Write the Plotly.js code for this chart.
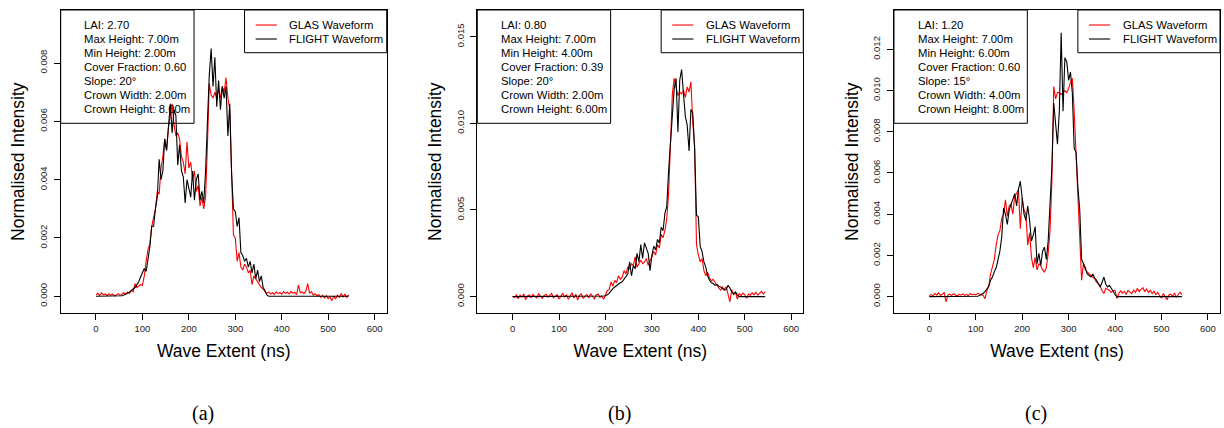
<!DOCTYPE html>
<html><head><meta charset="utf-8">
<script src="https://cdn.plot.ly/plotly-3.0.1.min.js"></script>
<style>html,body{margin:0;padding:0;background:#fff}#chart{width:1224px;height:428px}</style>
</head><body><div id="chart"></div>
<script>
// Wave extent sampling (ns)
const waveExtent = [0,4,8,12,16,20,24,28,32,36,40,44,48,52,56,60,64,68,72,76,80,84,88,92,96,100,104,108,112,116,120,124,128,132,136,140,144,148,152,156,160,164,168,172,176,180,184,188,192,196,200,204,208,212,216,220,224,228,232,236,240,244,248,252,256,260,264,268,272,276,280,284,288,292,296,300,304,308,312,316,320,324,328,332,336,340,344,348,352,356,360,364,368,372,376,380,384,388,392,396,400,404,408,412,416,420,424,428,432,436,440,444,448,452,456,460,464,468,472,476,480,484,488,492,496,500,504,508,512,516,520,524,528,532,536,540,544];

// Normalised intensity values, in units of 1e-4
const UNIT = 1e-4;
const glasA = [0.5,1.0,0.3,1.2,0.6,0.8,0.2,0.9,0.4,0.7,
 0.1,0.6,0.9,0.3,0.8,1.2,0.7,1.5,1.0,2.0,
 1.5,4.3,3.0,3.5,4.0,3.8,7,12,16,18,
 24,27,30,36,35,44,48,54,50,58,
 62,66,59,55,56,54,48,46,42,53,
 44,46,40,43,36,38,31,34,30,34,
 52,73,69,68,70,68,71,68,72,70,
 75,68,64,40,21,20,12,15,10,9,
 11,10,8,9,4,7,6,5,4,3,
 2.5,1.5,1.0,1.5,0.8,1.2,0.6,1.5,0.9,1.3,
 0.7,1.6,1.0,1.4,0.8,1.7,1.1,1.3,0.6,3.8,
 1.2,1.5,0.9,1.8,4.3,1.0,1.6,0.4,0.9,0.2,
 0.6,-0.4,0.3,-0.6,0.2,-0.8,-0.3,-1.5,0.1,-0.9,
 0.4,-0.5,1.0,-0.3,0.8,-0.4,0.5];
const flightA = [0,0,0,0,0,0,0,0,0,0,
 0,0,0,0.1,0.2,0.4,0.7,1.0,1.4,2.0,
 2.5,3.0,4.0,5.0,6.6,8.0,9.5,8.5,13,17,
 24,24,30,34,47,40,43,54,50,58,
 66,56,64,62,45,52,43,41,32,40,
 37,34,43,33,40,42,33,36,32,43,
 60,76,85,72,82,65,74,64,72,68,
 72,55,66,42,30,29,24,27,15,14,
 12,13,10,12,8,11,6,9,5,7,
 3,2,0.5,0,0,0,0,0,0,0,
 0,0,0,0,0,0,0,0,0,0,
 0,0,0,0,0,0,0,0,0,0,
 0,0,0,0,0,0,0,0,0,0,
 0,0,0,0,0,0,0];
const glasB = [0.2,-0.5,1.0,-1.2,0.8,-0.3,1.5,-1.8,0.4,0.9,
 -0.6,1.2,0.1,-0.8,1.6,0.3,-1.0,0.7,1.3,-0.4,
 0.9,1.8,-0.7,0.5,1.1,-1.4,0.6,1.9,-0.3,1.0,
 -1.5,0.8,2.2,-0.9,1.4,-2.0,0.7,1.6,-1.1,0.3,
 1.2,-0.8,1.7,0.2,-1.3,0.9,1.5,-0.6,0.4,-1.6,
 1.0,3.5,4.0,8.5,6.0,9.4,8.0,12,10,11,
 15,13,17,16,19,18,23,17,19,21,
 19,20,22,18,21,23,26,24,30,28,
 36,34,38,45,60,95,117,126,120,116,
 118,117,119,115,121,118,124,100,87,30,
 24,20,22,15,12,14,11,9,10,8,
 6.5,5,3.7,5.5,4,5.6,2,-3,4,1,
 2.5,-1.5,1.8,0.5,2.0,1.0,-1.0,1.5,0.8,2.2,
 1.0,2.5,0.8,1.8,3.0,1.5,2.7];
const flightB = [0,0,0,0,0,0,0,0,0,0,
 0,0,0,0,0,0,0,0,0,0,
 0,0,0,0,0,0,0,0,0,0,
 0,0,0,0,0,0,0,0,0,0,
 0,0,0,0,0,0,0,0,0.1,0.3,
 0.5,1.0,2.0,3.5,4.6,5.5,6.5,7.5,8.0,8.5,
 10,12,13,20,12,18,16,25,20,30,
 22,31,28,25,15,24,29,27,33,31,
 40,38,48,52,73,90,103,120,126,95,
 125,131,117,104,99,84,108,106,85,47,
 46,29,26,20,17,12,9.4,8,7.5,6.5,
 7,6,5.6,4.5,3.7,4,6.5,5,2.7,1.5,
 2.7,1,0,0,0,0,0,0,0,0,
 0,0,0,0,0,0,0];
const glasC = [0.5,1.0,0.3,1.5,0.8,1.8,0.6,1.2,1.9,-2.6,
 0.8,1.2,0.5,1.4,0.9,0.3,1.1,0.7,1.3,0.6,
 1.0,0.4,1.5,0.8,1.2,0.7,1.6,1.1,0.9,0.6,
 -1.0,3.0,5.0,11,14,18,25,30,32,38,
 40,47,39,44,45,40,49,50,52,33,
 48,42,40,25,31,19,14,19,13,16,
 15,13,12,14,21,32,56,102,96,99,
 99,98,99,100,99,101,104,106,90,70,
 45,30,8,16,13,12,11,10,9.5,8.7,
 7,6.3,5,3,1.5,4,3.5,3,2,3,
 3,-1,1.5,2.8,1.7,2.5,1.2,3.0,2.2,1.4,
 3.2,2.0,4.0,2.5,3.5,4.3,2.4,3.8,2.0,3.1,
 1.5,2.6,1.0,2.0,0.5,-0.8,1.5,0.3,-1.5,0.8,
 1.2,0.2,1.8,-0.3,1.0,2.2,1.0];
const flightC = [0,0,0,0,0,0,0,0,0,0,
 0,0,0,0,0,0,0,0,0,0,
 0,0,0,0,0,0,0.2,0.5,1.0,1.5,
 2.5,4.0,5.0,8.0,9.5,12,14,18,22,29,
 43,40,35,42,45,47,50,44,52,56,
 46,40,37,44,37,27,30,34,16,21,
 15,22,24,18,27,45,63,94,82,74,
 90,128,90,116,114,105,109,99,72,70,
 53,42,18,16,14,11,10,9.5,11,9,
 8,6,4.7,7,9.5,6,4.7,5.5,4,2.3,
 1.0,0,0,0,0,0,0,0,0,0,
 0,0,0,0,0,0,0,0,0,0,
 0,0,0,0,0,0,0,0,0,0,
 0,0,0,0,0,0,0];

const paramsA = ["LAI: 2.70","Max Height: 7.00m","Min Height: 2.00m","Cover Fraction: 0.60","Slope: 20°","Crown Width: 2.00m","Crown Height: 8.00m"];
const paramsB = ["LAI: 0.80","Max Height: 7.00m","Min Height: 4.00m","Cover Fraction: 0.39","Slope: 20°","Crown Width: 2.00m","Crown Height: 6.00m"];
const paramsC = ["LAI: 1.20","Max Height: 7.00m","Min Height: 6.00m","Cover Fraction: 0.60","Slope: 15°","Crown Width: 4.00m","Crown Height: 8.00m"];
const seriesNames = ["GLAS Waveform","FLIGHT Waveform"];
const captions = ["(a)","(b)","(c)"];
const xTicks = [0,100,200,300,400,500,600];
const yTicksA = [0,0.002,0.004,0.006,0.008];
const yTicksB = [0,0.005,0.010,0.015];
const yTicksC = [0,0.002,0.004,0.006,0.008,0.010,0.012];
const xTitle = "Wave Extent (ns)";
const yTitle = "Normalised Intensity";

const FONT = "Liberation Sans, Arial, sans-serif";
const panels = [
  {glas: glasA, flight: flightA, params: paramsA, yTicks: yTicksA, yRange: [-0.000584, 0.00982], dom: [0.04959, 0.31593], cap: 0.1658},
  {glas: glasB, flight: flightB, params: paramsB, yTicks: yTicksB, yRange: [-0.000965, 0.01654], dom: [0.38995, 0.65629], cap: 0.5060},
  {glas: glasC, flight: flightC, params: paramsC, yTicks: yTicksC, yRange: [-0.00081, 0.01391], dom: [0.73039, 0.99673], cap: 0.8464}
];
const yDom = [0.2680, 0.9766];
const plotH = 303.3;
const lineYpx = [25, 39, 53, 67, 81, 95, 109]; // px from top of figure
const toDomY = px => (313.3 - px) / plotH;

const traces = [];
const layout = {
  width: 1224, height: 428,
  margin: {l: 0, r: 0, t: 0, b: 0},
  paper_bgcolor: "#fff", plot_bgcolor: "#fff",
  showlegend: false,
  font: {family: FONT, color: "#000"},
  shapes: [], annotations: []
};

panels.forEach((p, i) => {
  const n = i === 0 ? "" : String(i + 1);
  const xa = "x" + n, ya = "y" + n;
  traces.push({x: waveExtent, y: p.glas.map(v => v * UNIT), xaxis: xa, yaxis: ya, type: "scatter", mode: "lines",
    name: seriesNames[0], line: {color: "#ff0000", width: 1.1}, hoverinfo: "x+y"});
  traces.push({x: waveExtent, y: p.flight.map(v => v * UNIT), xaxis: xa, yaxis: ya, type: "scatter", mode: "lines",
    name: seriesNames[1], line: {color: "#000000", width: 1.1}, hoverinfo: "x+y"});

  layout["xaxis" + n] = {
    domain: p.dom, anchor: ya, range: [-76, 626],
    tickmode: "array", tickvals: xTicks, ticktext: xTicks.map(String),
    ticks: "outside", ticklen: 6, tickwidth: 1, tickcolor: "#000",
    showline: true, linecolor: "#000", linewidth: 1, mirror: true,
    showgrid: false, zeroline: false,
    tickfont: {family: FONT, size: 9.5, color: "#222"},
    title: {text: xTitle, font: {family: FONT, size: 17.5, color: "#000"}, standoff: 12}
  };
  layout["yaxis" + n] = {
    domain: yDom, anchor: xa, range: p.yRange,
    tickmode: "array", tickvals: p.yTicks, ticktext: p.yTicks.map(v => v.toFixed(3)),
    ticks: "outside", ticklen: 6, tickwidth: 1, tickcolor: "#000", tickangle: -90,
    ticklabelstandoff: 3,
    showline: true, linecolor: "#000", linewidth: 1, mirror: true,
    showgrid: false, zeroline: false,
    tickfont: {family: FONT, size: 9.5, color: "#222"},
    title: {text: yTitle, font: {family: FONT, size: 17.5, color: "#000"}, standoff: 8}
  };

  const xd = xa + " domain", yd = ya + " domain";
  // parameter box
  layout.shapes.push({type: "rect", xref: xd, yref: yd, x0: 0, x1: 0.409, y0: toDomY(123.3), y1: 1,
    line: {color: "#000", width: 1}, fillcolor: "rgba(0,0,0,0)", layer: "above"});
  p.params.forEach((t, k) => {
    layout.annotations.push({xref: xd, yref: yd, x: 0.0663, y: toDomY(lineYpx[k]), xanchor: "left", yanchor: "middle",
      text: t, showarrow: false, font: {family: FONT, size: 11.3, color: "#000"}});
  });
  // legend box
  layout.shapes.push({type: "rect", xref: xd, yref: yd, x0: 0.564, x1: 1, y0: toDomY(52.7), y1: 1,
    line: {color: "#000", width: 1}, fillcolor: "#fff", layer: "above"});
  ["#ff0000", "#000000"].forEach((c, k) => {
    layout.shapes.push({type: "line", xref: xd, yref: yd, x0: 0.598, x1: 0.663, y0: toDomY(lineYpx[k]), y1: toDomY(lineYpx[k]),
      line: {color: c, width: 1.1}, layer: "above"});
    layout.annotations.push({xref: xd, yref: yd, x: 0.695, y: toDomY(lineYpx[k]), xanchor: "left", yanchor: "middle",
      text: seriesNames[k], showarrow: false, font: {family: FONT, size: 11.3, color: "#000"}});
  });
  // caption
  layout.annotations.push({xref: "paper", yref: "paper", x: p.cap, y: (428 - 413.3) / 428, xanchor: "center", yanchor: "middle",
    text: captions[i], showarrow: false, font: {family: "Liberation Serif, Times New Roman, serif", size: 20, color: "#000"}});
});

Plotly.newPlot("chart", traces, layout, {displayModeBar: false, staticPlot: true});
</script>
</body></html>
